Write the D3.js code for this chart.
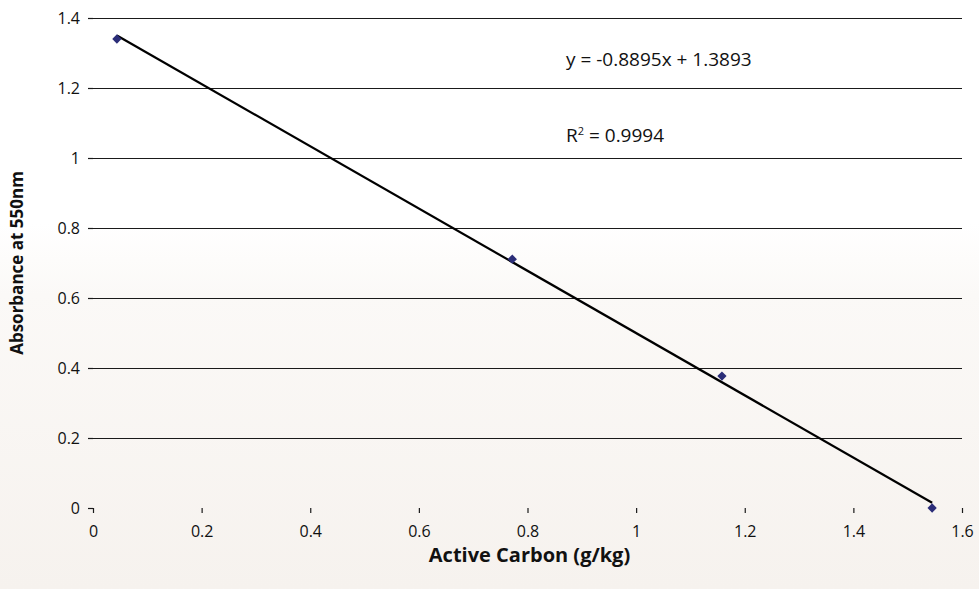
<!DOCTYPE html>
<html>
<head>
<meta charset="utf-8">
<script src="https://cdn.jsdelivr.net/npm/d3@7"></script>
<style>
body { margin: 0; background: #fff; }
text { font-family: "Open Sans", "Noto Sans", sans-serif; }
</style>
</head>
<body>
<div id="chart"></div>
<script>
var w = 979;
var h = 589;

var carbon = [0.044, 0.772, 1.158, 1.545];
var absorbance = [1.34, 0.711, 0.377, 0.0];
var xTicks = [0, 0.2, 0.4, 0.6, 0.8, 1, 1.2, 1.4, 1.6];
var yTicks = [0, 0.2, 0.4, 0.6, 0.8, 1, 1.2, 1.4];
var slope = -0.8895;
var intercept = 1.3893;
var rSquared = "0.9994";

var plotLeft = 93, plotRight = 962, plotTop = 18, plotBottom = 508;

var svg = d3.select("#chart")
	.append("svg")
	.attr("width", w)
	.attr("height", h);

// faint warm background toward the bottom
var grad = svg.append("defs").append("linearGradient")
	.attr("id", "bg")
	.attr("x1", 0).attr("y1", 0).attr("x2", 0).attr("y2", 1);
grad.append("stop").attr("offset", "0.38").attr("stop-color", "#ffffff");
grad.append("stop").attr("offset", "0.5").attr("stop-color", "#fbf9f7");
grad.append("stop").attr("offset", "1").attr("stop-color", "#f6f2ee");
svg.append("rect")
	.attr("width", w)
	.attr("height", h)
	.attr("fill", "url(#bg)");

var xScale = d3.scaleLinear()
	.domain([0, 1.6])
	.range([plotLeft, plotRight]);

var yScale = d3.scaleLinear()
	.domain([0, 1.4])
	.range([plotBottom, plotTop]);

// gridlines
var grid = svg.append("g")
	.attr("transform", "translate(" + plotLeft + ",0)")
	.call(d3.axisRight(yScale)
		.tickValues(yTicks.filter(function(d) { return d > 0; }))
		.tickSize(plotRight - plotLeft)
		.tickFormat(""));
grid.select(".domain").remove();
grid.selectAll("line").attr("stroke", "#1a1a1a").attr("stroke-width", 1.2);

var yAxis = svg.append("g")
	.attr("transform", "translate(" + plotLeft + ",0)")
	.call(d3.axisLeft(yScale)
		.tickValues(yTicks)
		.tickSize(5)
		.tickPadding(8)
		.tickFormat(d3.format("")));
yAxis.select(".domain").remove();
yAxis.selectAll("line").attr("stroke", "#1a1a1a").attr("stroke-width", 1.2);
yAxis.selectAll("text").style("font-size", "16px").attr("fill", "#111");

var xAxis = svg.append("g")
	.attr("transform", "translate(0," + plotBottom + ")")
	.call(d3.axisBottom(xScale)
		.tickValues(xTicks)
		.tickSize(5)
		.tickPadding(13)
		.tickFormat(d3.format("")));
xAxis.select(".domain").remove();
xAxis.selectAll("line").attr("stroke", "#1a1a1a").attr("stroke-width", 1.2);
xAxis.selectAll("text").style("font-size", "16px").attr("fill", "#111");

// trendline
var x0 = carbon[0], x1 = carbon[carbon.length - 1];
svg.append("line")
	.attr("x1", xScale(x0))
	.attr("y1", yScale(slope * x0 + intercept))
	.attr("x2", xScale(x1))
	.attr("y2", yScale(slope * x1 + intercept))
	.attr("stroke", "#000")
	.attr("stroke-width", 2.2);

// points
svg.selectAll(".pt")
	.data(carbon)
	.enter()
	.append("path")
	.attr("class", "pt")
	.attr("d", d3.symbol().type(d3.symbolDiamond2).size(55))
	.attr("transform", function(d, i) {
		return "translate(" + xScale(d) + "," + yScale(absorbance[i]) + ")";
	})
	.attr("fill", "#2b2d78");

// equation labels
svg.append("text")
	.attr("x", 566)
	.attr("y", 66)
	.style("font-size", "19px")
	.attr("fill", "#111")
	.text("y = " + slope + "x + " + intercept);

var r2 = svg.append("text")
	.attr("x", 566)
	.attr("y", 142)
	.style("font-size", "19px")
	.attr("fill", "#111");
r2.append("tspan").text("R");
r2.append("tspan").attr("dy", -7).style("font-size", "11px").text("2");
r2.append("tspan").attr("dy", 7).text(" = " + rSquared);

// axis titles
svg.append("text")
	.attr("x", (plotLeft + plotRight) / 2 + 2)
	.attr("y", 562)
	.style("text-anchor", "middle")
	.style("font-size", "20px")
	.style("font-weight", "bold")
	.attr("fill", "#111")
	.text("Active Carbon (g/kg)");

svg.append("text")
	.attr("transform", "rotate(-90)")
	.attr("x", -263)
	.attr("y", 23)
	.style("text-anchor", "middle")
	.style("font-size", "17px")
	.style("font-weight", "bold")
	.attr("fill", "#111")
	.text("Absorbance at 550nm");
</script>
</body>
</html>
